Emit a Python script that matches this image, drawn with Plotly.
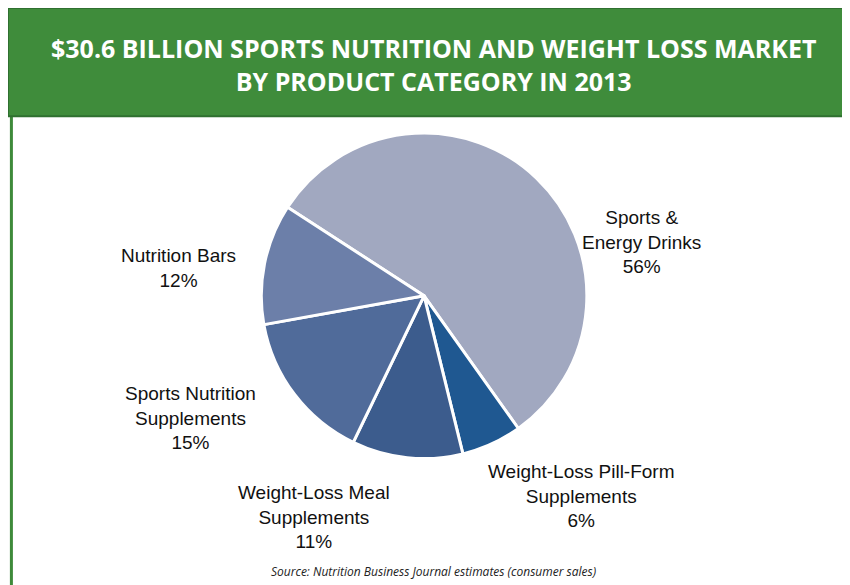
import plotly.graph_objects as go

categories = ["Sports &<br>Energy Drinks", "Weight-Loss Pill-Form<br>Supplements",
              "Weight-Loss Meal<br>Supplements", "Sports Nutrition<br>Supplements",
              "Nutrition Bars"]
shares = [56, 6, 11, 15, 12]
colors = ["#a1a8c0", "#1f5891", "#3c5c8d", "#506b9a", "#6c7fa9"]
# label anchor positions (paper coords)
label_pos = [(0.745, 0.60), (0.675, 0.165), (0.36, 0.13), (0.215, 0.30), (0.2, 0.555)]

fig = go.Figure(go.Pie(
    labels=categories, values=shares, sort=False, direction="clockwise",
    rotation=-57, textinfo="none", hoverinfo="label+percent",
    marker=dict(colors=colors, line=dict(color="white", width=3)),
    domain=dict(x=[0.298, 0.681], y=[0.228, 0.788]),
    showlegend=False,
))

for name, val, (x, y) in zip(categories, shares, label_pos):
    fig.add_annotation(x=x, y=y, xref="paper", yref="paper", showarrow=False,
                       xanchor="center", yanchor="middle",
                       text=f"{name}<br>{val}%", align="center",
                       font=dict(family="Liberation Sans", size=19, color="#111"))

fig.add_annotation(x=0.5, y=0.037, xref="paper", yref="paper", showarrow=False,
                   xanchor="center", yanchor="middle",
                   text="<i>Source: Nutrition Business Journal estimates (consumer sales)</i>",
                   font=dict(family="Open Sans", size=12, color="#222"))

fig.add_annotation(x=0.5, y=0.903, xref="paper", yref="paper", showarrow=False,
                   xanchor="center", yanchor="middle",
                   text="<b>$30.6 BILLION SPORTS NUTRITION AND WEIGHT LOSS MARKET<br>BY PRODUCT CATEGORY IN 2013</b>",
                   font=dict(family="Open Sans", size=25, color="white"))

fig.update_layout(
    width=850, height=585, margin=dict(l=0, r=0, t=0, b=0),
    paper_bgcolor="white",
    shapes=[
        dict(type="rect", xref="paper", yref="paper", x0=0.004, x1=0.994, y0=0.006, y1=0.99,
             line=dict(color="#3e8a3a", width=3), layer="below"),
        dict(type="rect", xref="paper", yref="paper", x0=0.0, x1=1.0, y0=0.815, y1=1.0,
             fillcolor="#3f8c3b", line=dict(color="#2f7030", width=2), layer="below"),
    ],
)

fig.write_html("out.html")
